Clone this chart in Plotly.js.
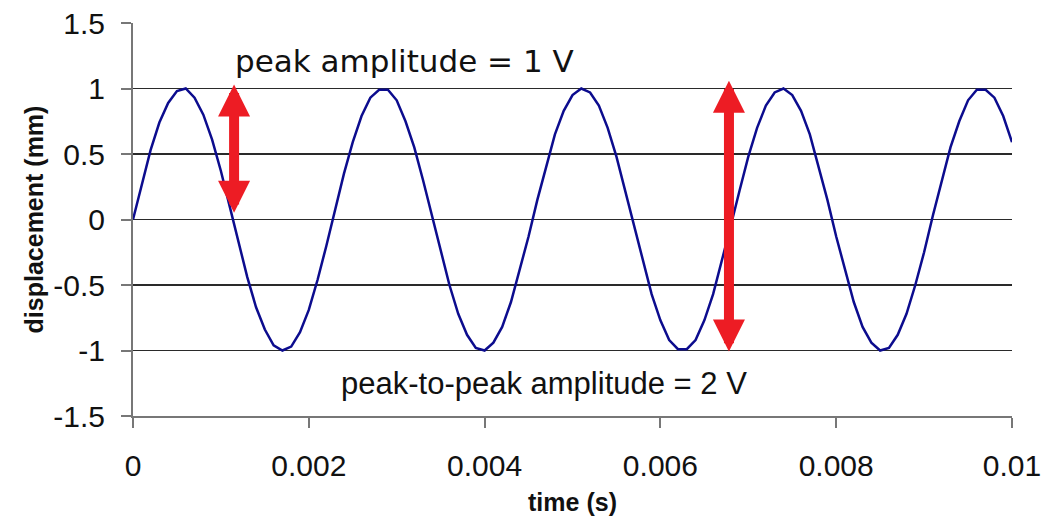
<!DOCTYPE html>
<html>
<head>
<meta charset="utf-8">
<script src="https://cdn.plot.ly/plotly-3.0.1.min.js"></script>
<style>html,body{margin:0;padding:0;background:#fff;}#chart{width:1044px;height:523px;}</style>
</head>
<body>
<div id="chart"></div>
<script>
const timeStart = 0;
const timeStep = 0.0001;
const displacement = [
  0.00, 0.27, 0.53, 0.74, 0.89, 0.98, 1.00, 0.93, 0.80, 0.61,
  0.37, 0.10, -0.18, -0.44, -0.67, -0.84, -0.96, -1.00, -0.97, -0.86,
  -0.69, -0.46, -0.20, 0.08, 0.35, 0.59, 0.79, 0.93, 0.99, 0.99,
  0.91, 0.75, 0.55, 0.30, 0.03, -0.25, -0.50, -0.72, -0.88, -0.98,
  -1.00, -0.94, -0.82, -0.63, -0.39, -0.13, 0.15, 0.41, 0.65, 0.83,
  0.95, 1.00, 0.97, 0.87, 0.70, 0.48, 0.22, -0.05, -0.32, -0.57,
  -0.77, -0.92, -0.99, -0.99, -0.92, -0.77, -0.57, -0.32, -0.05, 0.22,
  0.48, 0.70, 0.87, 0.97, 1.00, 0.95, 0.83, 0.65, 0.41, 0.15,
  -0.13, -0.39, -0.63, -0.82, -0.94, -1.00, -0.98, -0.88, -0.72, -0.50,
  -0.25, 0.03, 0.30, 0.55, 0.75, 0.91, 0.99, 0.99, 0.93, 0.79,
  0.59
];

// Axis ticks
const xTicks = [0, 0.002, 0.004, 0.006, 0.008, 0.01];
const xTickLabels = ['0', '0.002', '0.004', '0.006', '0.008', '0.01'];
const yTicks = [-1.5, -1, -0.5, 0, 0.5, 1, 1.5];
const yTickLabels = ['-1.5', '-1', '-0.5', '0', '0.5', '1', '1.5'];

// Double-headed amplitude arrows
const arrowX = [0.00115, 0.00678];
const arrowTop = [1.03, 1.06];
const arrowBottom = [0.04, -1.02];

// Text labels
const labelTexts = ['peak amplitude = 1 V', 'peak-to-peak amplitude = 2 V'];
const labelX = [0.00114, 0.00468];
const labelY = [1.21, -1.25];

const trace = {
  type: 'scatter',
  mode: 'lines',
  x0: timeStart,
  dx: timeStep,
  y: displacement,
  line: {color: '#0c0c8e', width: 2.5, shape: 'linear'},
  hoverinfo: 'x+y',
  showlegend: false
};

const annotations = [];
arrowX.forEach((ax, i) => {
  annotations.push({
    x: ax, y: arrowTop[i], xref: 'x', yref: 'y',
    ax: ax, ay: arrowBottom[i], axref: 'x', ayref: 'y',
    text: '', showarrow: true,
    arrowside: 'end+start',
    arrowhead: 2, startarrowhead: 2,
    arrowsize: 0.64, startarrowsize: 0.64,
    arrowwidth: 10, arrowcolor: '#ed1c24',
    standoff: 0, startstandoff: 0
  });
});
annotations.push({
  x: labelX[0], y: labelY[0], xref: 'x', yref: 'y',
  text: labelTexts[0], showarrow: false, xanchor: 'left', yanchor: 'middle',
  font: {family: 'DejaVu Sans', size: 31, color: '#111'}
});
annotations.push({
  x: labelX[1], y: labelY[1], xref: 'x', yref: 'y',
  text: labelTexts[1], showarrow: false, xanchor: 'center', yanchor: 'middle',
  font: {family: 'Liberation Sans, Arial', size: 31, color: '#111'}
});

const layout = {
  width: 1044, height: 523,
  margin: {l: 133, r: 32, t: 23, b: 107, pad: 0},
  paper_bgcolor: '#ffffff', plot_bgcolor: '#ffffff',
  font: {family: 'Liberation Sans, Arial', color: '#111'},
  xaxis: {
    range: [0, 0.01],
    tickmode: 'array', tickvals: xTicks, ticktext: xTickLabels,
    showgrid: false, zeroline: false,
    showline: true, linecolor: '#777', linewidth: 2,
    ticks: 'outside', ticklen: 10, tickwidth: 2, tickcolor: '#777',
    tickfont: {family: 'Liberation Sans, Arial', size: 30, color: '#111'},
    ticklabelstandoff: 12,
    title: {text: 'time (s)', font: {family: 'Liberation Sans, Arial', size: 25, color: '#111', weight: 'bold'}, standoff: 12}
  },
  yaxis: {
    range: [-1.5, 1.5],
    tickmode: 'array', tickvals: yTicks, ticktext: yTickLabels,
    showgrid: true, gridcolor: '#2a2a2a', gridwidth: 1.5,
    zeroline: false,
    showline: true, linecolor: '#777', linewidth: 2,
    ticks: 'outside', ticklen: 10, tickwidth: 2, tickcolor: '#777',
    tickfont: {family: 'Liberation Sans, Arial', size: 30, color: '#111'},
    ticklabelstandoff: 10,
    title: {text: 'displacement (mm)', font: {family: 'Liberation Sans, Arial', size: 25, color: '#111', weight: 'bold'}, standoff: 3}
  },
  annotations: annotations
};

Plotly.newPlot('chart', [trace], layout, {displayModeBar: false, staticPlot: true});
</script>
</body>
</html>
